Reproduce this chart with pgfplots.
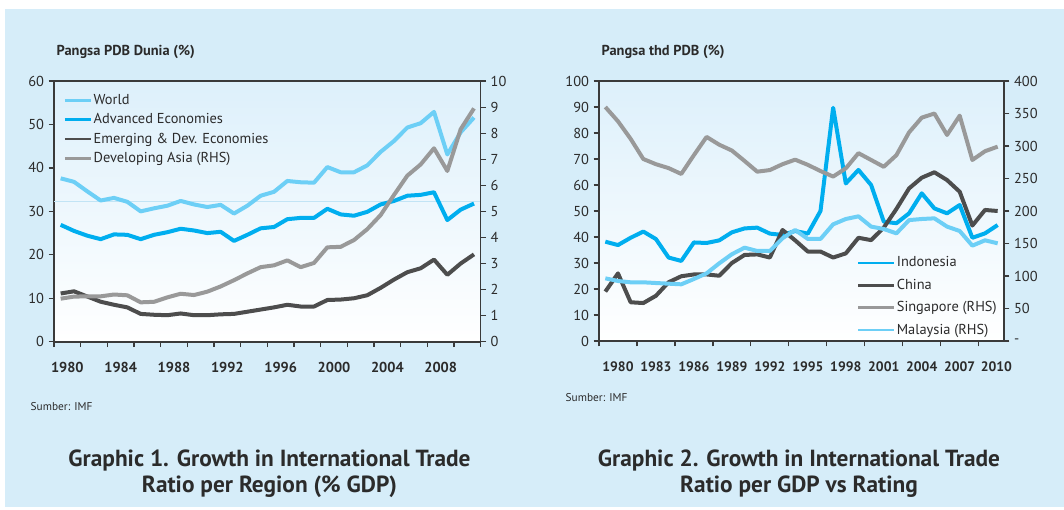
\documentclass[border=0pt]{standalone}
\usepackage{fontspec}
\setmainfont{PT Sans}
\usepackage{pgfplots}
\usepackage{pgfplotstable}
\pgfplotsset{compat=1.18}
\definecolor{bgblue}{HTML}{D6EDF9}
\definecolor{plottop}{HTML}{DDF0FB}
\definecolor{worldc}{HTML}{6DCFF6}
\definecolor{advc}{HTML}{00AEEF}
\definecolor{emc}{HTML}{4D4D4D}
\definecolor{asiac}{HTML}{999999}
\definecolor{txt}{HTML}{2B2B2B}
\definecolor{axc}{HTML}{3A3A3A}
\definecolor{faint}{HTML}{C2E4F5}

\pgfplotstableread{
i world adv emerg asia
0 37.6 26.9 11.1 1.65
1 36.8 25.5 11.6 1.73
2 34.6 24.4 10.4 1.74
3 32.5 23.6 9.2 1.74
4 33.1 24.7 8.5 1.81
5 32.2 24.6 7.9 1.78
6 30.0 23.6 6.4 1.51
7 30.7 24.6 6.2 1.53
8 31.3 25.2 6.1 1.70
9 32.4 26.0 6.5 1.84
10 31.6 25.6 6.1 1.79
11 31.0 25.0 6.1 1.92
12 31.5 25.3 6.3 2.12
13 29.5 23.2 6.4 2.36
14 31.3 24.6 6.9 2.62
15 33.6 26.1 7.4 2.86
16 34.5 26.4 7.9 2.93
17 37.0 28.2 8.5 3.12
18 36.7 28.5 8.1 2.86
19 36.6 28.5 8.1 3.02
20 40.2 30.6 9.6 3.62
21 39.0 29.3 9.7 3.64
22 39.0 29.0 10.0 3.90
23 40.6 29.9 10.7 4.32
24 43.7 31.6 12.4 4.86
25 46.2 32.4 14.3 5.63
26 49.3 33.6 16.0 6.37
27 50.3 33.8 16.9 6.80
28 52.9 34.4 18.9 7.42
29 43.1 28.0 15.4 6.55
30 48.2 30.4 18.0 8.15
31 51.6 31.8 20.1 8.95
}\lefttab

\pgfplotstableread{
i indo china sing malay
0 38.2 19.0 360 96.4
1 36.9 26.0 338 92.3
2 39.7 14.9 311 90.3
3 42.1 14.6 280 90.3
4 39.2 17.4 272 89.2
5 32.1 22.6 266 88.2
6 30.8 24.9 257 87.2
7 37.9 25.6 286 95.4
8 37.7 25.6 314 104.1
9 38.7 25.1 302 119.5
10 41.8 30.0 293 133.5
11 43.3 33.1 277 143.6
12 43.6 33.3 260.5 138.5
13 41.3 32.1 263 138.5
14 40.8 42.7 272 158
15 42.3 38.7 279 170.8
16 41.3 34.4 271 157
17 50.0 34.4 261.5 157
18 89.7 32.1 253 179.5
19 60.6 33.7 265.6 187.7
20 65.8 39.7 289 191.8
21 60.0 38.8 278.5 176
22 45.9 43.6 268 172.3
23 45.3 50.8 286 165.6
24 49.1 58.7 321 186
25 56.8 62.8 343.6 187.7
26 51.0 64.9 350 188.7
27 49.1 61.9 317 176
28 52.3 57.4 346.7 169.2
29 39.7 44.4 278.5 146.7
30 41.4 50.4 292 154.9
31 44.6 50.0 299 150.3
}\righttab

\pgfplotsset{
  base/.style={
    scale only axis,
    xmin=-0.5, xmax=31.5,
    axis line style={draw=axc, line width=1.2pt},
    tick style={draw=axc, line width=0.9pt},
    tick align=outside,
    major tick length=4pt,
    minor tick length=4pt,
    /pgf/number format/assume math mode=true,
    tick label style={text=txt, font=\fontsize{10.8}{12}\selectfont},
    clip=false,
  },
  xpart/.style={
    xtick pos=bottom,
    every major x tick/.append style={draw=none},
    xticklabel style={font=\bfseries\fontsize{10.8}{12}\selectfont, yshift=-8pt},
  },
  leg/.style={
    legend style={draw=none, fill=none, inner sep=0pt,
      font=\fontsize{10.8}{12}\selectfont, text=txt,
      legend cell align=left,
      nodes={inner sep=1pt}},
  },
}

\begin{document}
\begin{tikzpicture}
\begin{scope}[x=0.75pt,y=-0.75pt]
\fill[white] (0,0) rectangle (1064,510);
\fill[bgblue] (5,9.5) rectangle (1064,507);
\end{scope}

% ---------------- Panel 1 ----------------
\begin{axis}[base, xpart,
  at={(40.5pt,-256.275pt)}, anchor=south west,
  width=320pt, height=195.5pt,
  ymin=0, ymax=60, ytick={0,10,...,60}, ytick pos=left,
  xtick={0.5,4.5,...,28.5},
  xticklabels={1980,1984,1988,1992,1996,2000,2004,2008},
  minor xtick={-0.5,1.5,...,31.5},
  axis background/.style={top color=plottop, bottom color=white},
]
\addplot[faint, line width=0.5pt, forget plot] coordinates {(-0.5,32.2) (31.5,32.2)};
\addplot[worldc, line width=3pt, line join=round] table[x=i, y=world] {\lefttab};
\addplot[advc, line width=3pt, line join=round] table[x=i, y=adv] {\lefttab};
\addplot[emc, line width=3pt, line join=round] table[x=i, y=emerg] {\lefttab};
\end{axis}
\begin{axis}[base, leg,
  at={(40.5pt,-256.275pt)}, anchor=south west,
  width=320pt, height=195.5pt,
  axis x line=none, axis y line*=right,
  ymin=0, ymax=10, ytick={0,1,...,10},
  legend style={at={(0.022,0.955)}, anchor=north west, row sep=3.3pt},
  legend image code/.code={\draw[#1, line width=2pt] (0pt,0pt) -- (19.5pt,0pt);},
]
\addlegendimage{worldc, line width=3pt}\addlegendentry{World}
\addlegendimage{advc, line width=3pt}\addlegendentry{Advanced Economies}
\addlegendimage{emc, line width=3pt}\addlegendentry{Emerging \& Dev. Economies}
\addplot[asiac, line width=3pt, line join=round] table[x=i, y=asia] {\lefttab};
\addlegendentry{Developing Asia (RHS)}
\end{axis}

% ---------------- Panel 2 ----------------
\begin{axis}[base, xpart,
  at={(449.25pt,-255.75pt)}, anchor=south west,
  width=303.75pt, height=195pt,
  ymin=0, ymax=100, ytick={0,10,...,100}, ytick pos=left,
  xtick={1,4,7,10,13,16,19,22,25,28,30.9},
  xticklabels={1980,1983,1986,1989,1992,1995,1998,2001,2004,2007,2010},
  xticklabel style={font=\bfseries\fontsize{10.3}{12}\selectfont},
  minor xtick={-0.5,2.5,...,29.5},
  axis background/.style={top color=plottop, bottom color=white},
]
\addplot[advc, line width=3pt, line join=round] table[x=i, y=indo] {\righttab};
\addplot[emc, line width=3pt, line join=round] table[x=i, y=china] {\righttab};
\end{axis}
\begin{axis}[base, leg,
  at={(449.25pt,-255.75pt)}, anchor=south west,
  width=303.75pt, height=195pt,
  axis x line=none, axis y line*=right,
  ymin=0, ymax=400, ytick={0,50,...,400},
  yticklabels={-,50,100,150,200,250,300,350,400},
  legend style={at={(0.636,0.33)}, anchor=north west, row sep=5.6pt},
  legend image code/.code={\draw[#1, line width=2pt] (0pt,0pt) -- (27pt,0pt);},
]
\addlegendimage{advc, line width=3pt}\addlegendentry{Indonesia}
\addlegendimage{emc, line width=3pt}\addlegendentry{China}
\addplot[asiac, line width=3pt, line join=round] table[x=i, y=sing] {\righttab};
\addlegendentry{Singapore (RHS)}
\addplot[worldc, line width=3pt, line join=round] table[x=i, y=malay] {\righttab};
\addlegendentry{Malaysia (RHS)}
\end{axis}

% ---------------- Texts ----------------
\begin{scope}[x=0.75pt,y=-0.75pt]
\node[anchor=west, text=txt, font=\bfseries\fontsize{10.8}{12}\selectfont] at (52,52) {Pangsa PDB Dunia (\%)};
\node[anchor=west, text=txt, font=\bfseries\fontsize{10.8}{12}\selectfont] at (597,52) {Pangsa thd PDB (\%)};
\node[anchor=west, text=txt, font=\fontsize{8.5}{10}\selectfont] at (26,407) {Sumber: IMF};
\node[anchor=west, text=txt, font=\fontsize{8.5}{10}\selectfont] at (561,398) {Sumber: IMF};
\node[align=center, text=txt, font=\bfseries\fontsize{17.5}{19.5}\selectfont] at (269.5,474) {Graphic 1. Growth in International Trade\\Ratio per Region (\% GDP)};
\node[align=center, text=txt, font=\bfseries\fontsize{17.5}{19.5}\selectfont] at (799,474) {Graphic 2. Growth in International Trade\\Ratio per GDP vs Rating};
\end{scope}
\end{tikzpicture}
\end{document}
